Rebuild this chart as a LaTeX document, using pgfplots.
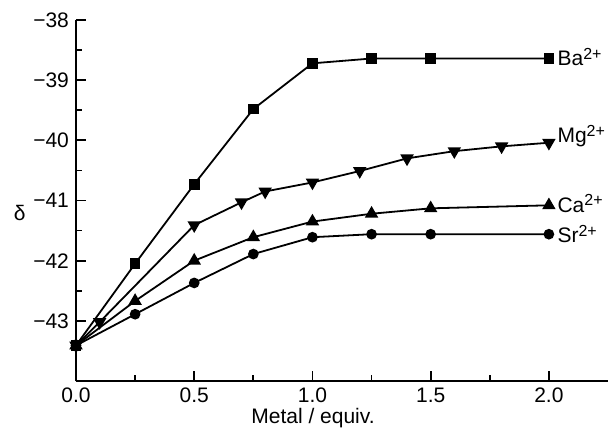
\documentclass[border=0pt]{standalone}
\usepackage{fontspec}
\setmainfont{Liberation Sans}
\usepackage{pgfplots}
\pgfplotsset{compat=1.18}

\pgfplotstableread{
x y
0 -43.41
0.25 -42.05
0.5 -40.73
0.75 -39.48
1.0 -38.72
1.25 -38.64
1.5 -38.64
2.0 -38.64
}\ba

\pgfplotstableread{
x y
0 -43.41
0.1 -43.02
0.5 -41.41
0.7 -41.03
0.8 -40.85
1.0 -40.70
1.2 -40.51
1.4 -40.30
1.6 -40.18
1.8 -40.10
2.0 -40.04
}\mg

\pgfplotstableread{
x y
0 -43.41
0.25 -42.67
0.5 -42.00
0.75 -41.61
1.0 -41.35
1.25 -41.22
1.5 -41.13
2.0 -41.08
}\ca

\pgfplotstableread{
x y
0 -43.41
0.25 -42.89
0.5 -42.37
0.75 -41.89
1.0 -41.61
1.25 -41.56
1.5 -41.56
2.0 -41.56
}\sr

\newcommand{\lbl}{\fontsize{10.5}{12}\selectfont}
\newcommand{\ion}[1]{\raisebox{0.55ex}{\fontsize{8}{9}\selectfont #1}}

\begin{document}
\begin{tikzpicture}
\begin{axis}[
    scale only axis,
    width=266pt, height=180.5pt,
    xmin=0, xmax=2.25,
    ymin=-44, ymax=-38,
    axis x line*=bottom,
    axis y line*=left,
    axis line style={line width=1pt},
    xtick={0,0.5,1,1.5,2},
    minor x tick num=1,
    ytick={-43,-42,-41,-40,-39,-38},
    yticklabels={−43,−42,−41,−40,−39,−38},
    minor y tick num=1,
    tick align=inside,
    major tick length=5pt,
    minor tick length=3pt,
    tick style={line width=0.9pt, black},
    xticklabel style={/pgf/number format/.cd, fixed, fixed zerofill, precision=1},
    /pgf/number format/assume math mode=true,
    ticklabel style={font=\lbl},
    label style={font=\lbl},
    xlabel={Metal / equiv.},
    xlabel style={at={(ticklabel cs:0.4455)}, anchor=north, yshift=4pt},
    ylabel={δ},
    ylabel style={rotate=-90, at={(ticklabel cs:0.465)}, anchor=east, xshift=3pt},
    every axis plot/.append style={black, line width=0.9pt},
    clip=false,
]
\addplot[mark=square*, mark size=2.2pt] table {\ba};
\addplot[mark=triangle*, mark size=3pt, mark options={rotate=180}] table {\mg};
\addplot[mark=triangle*, mark size=3pt] table {\ca};
\addplot[mark=*, mark size=2.2pt] table {\sr};
\node[anchor=west, font=\lbl, inner xsep=0pt] at (axis cs:2.035,-38.62) {Ba\ion{2+}};
\node[anchor=west, font=\lbl, inner xsep=0pt] at (axis cs:2.035,-39.93) {Mg\ion{2+}};
\node[anchor=west, font=\lbl, inner xsep=0pt] at (axis cs:2.035,-41.05) {Ca\ion{2+}};
\node[anchor=west, font=\lbl, inner xsep=0pt] at (axis cs:2.035,-41.56) {Sr\ion{2+}};
% white margins as in the reference
\path (rel axis cs:0,1) ++(-38pt,10pt) coordinate (tl);
\path (rel axis cs:1,0) ++(2.5pt,-25.5pt) coordinate (br);
\end{axis}
\end{tikzpicture}
\end{document}
